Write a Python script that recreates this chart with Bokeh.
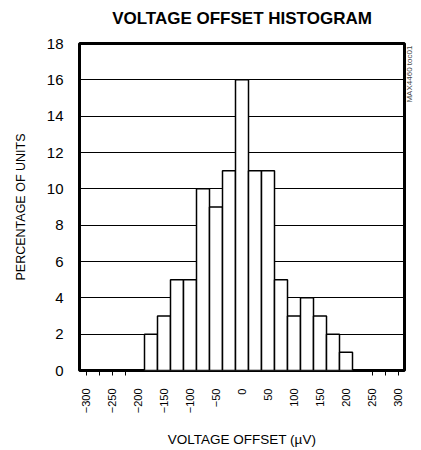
import math
from bokeh.plotting import figure
from bokeh.models import Range1d, FixedTicker, LinearAxis, ColumnDataSource
from bokeh.embed import file_html
from bokeh.resources import INLINE

# ---- data ----
offset_uv = [-175, -150, -125, -100, -75, -50, -25, 0, 25, 50, 75, 100, 125, 150, 175, 200]
pct_units = [2, 3, 5, 5, 10, 9, 11, 16, 11, 11, 5, 3, 4, 3, 2, 1]
x_tick_labels = [-300, -250, -200, -150, -100, -50, 0, 50, 100, 150, 200, 250, 300]
x_minor_ticks = [-300, -275, -250, -225, 250, 275, 300]
y_ticks = [0, 2, 4, 6, 8, 10, 12, 14, 16, 18]
bin_width = 25
title_text = "VOLTAGE OFFSET HISTOGRAM"
note_text = "MAX4460 toc01"
note_y = 14.75

FONT = "Liberation Sans"

p = figure(width=421, height=450, output_backend="svg", toolbar_location=None,
           x_range=Range1d(-312.5, 312.5), y_range=Range1d(0, 18),
           min_border_left=79, min_border_right=16, min_border_top=43, min_border_bottom=80)

src = ColumnDataSource(dict(x=offset_uv, top=pct_units))
p.vbar(x="x", top="top", bottom=0, width=bin_width, source=src,
       fill_color="white", line_color="black", line_width=1.5)

p.outline_line_color = "black"
p.outline_line_width = 3
p.background_fill_color = "white"
p.border_fill_color = "white"

# grid
p.xgrid.grid_line_color = None
p.ygrid.grid_line_color = "black"
p.ygrid.grid_line_width = 1
p.ygrid.level = "underlay"

# x axis
xa = p.xaxis[0]
xa.ticker = FixedTicker(ticks=x_tick_labels, minor_ticks=x_minor_ticks)
xa.major_label_orientation = math.pi / 2
xa.major_label_text_font = FONT
xa.major_label_text_font_size = "11px"
xa.major_label_text_color = "black"
xa.major_tick_out = 0
xa.major_tick_in = 0
xa.minor_tick_out = 5
xa.minor_tick_in = 0
xa.minor_tick_line_color = "black"
xa.axis_line_color = None
xa.major_label_standoff = 13
xa.axis_label = "VOLTAGE OFFSET (µV)"
xa.axis_label_text_font = FONT
xa.axis_label_text_font_size = "13.5px"
xa.axis_label_text_font_style = "normal"
xa.axis_label_text_color = "black"
xa.axis_label_standoff = 16

# y axis
ya = p.yaxis[0]
ya.ticker = FixedTicker(ticks=y_ticks)
ya.major_label_text_font = FONT
ya.major_label_text_font_size = "15px"
ya.major_label_text_color = "black"
ya.major_tick_out = 0
ya.major_tick_in = 0
ya.minor_tick_out = 0
ya.minor_tick_in = 0
ya.axis_line_color = None
ya.major_label_standoff = 16
ya.axis_label = "PERCENTAGE OF UNITS"
ya.axis_label_text_font = FONT
ya.axis_label_text_font_size = "12.5px"
ya.axis_label_text_font_style = "normal"
ya.axis_label_text_color = "black"
ya.axis_label_standoff = 16

# chart title, as the label of an empty axis above the frame
ta = LinearAxis(ticker=FixedTicker(ticks=[]), axis_line_color=None,
                major_tick_out=0, major_tick_in=0, minor_tick_out=0, minor_tick_in=0,
                major_label_text_font_size="0px", major_label_standoff=0,
                axis_label=title_text, axis_label_text_font=FONT,
                axis_label_text_font_size="17px", axis_label_text_font_style="bold",
                axis_label_text_color="black", axis_label_standoff=16)
p.add_layout(ta, "above")

# figure id note on the right, as the single tick label of an empty right axis
ra = LinearAxis(ticker=FixedTicker(ticks=[note_y]), axis_line_color=None,
                major_tick_out=0, major_tick_in=0, minor_tick_out=0, minor_tick_in=0,
                major_label_overrides={note_y: note_text},
                major_label_orientation=math.pi / 2,
                major_label_text_font=FONT, major_label_text_font_size="8px",
                major_label_text_color="#444444", major_label_standoff=5)
p.add_layout(ra, "right")

open("out.html", "w").write(file_html(p, INLINE))
